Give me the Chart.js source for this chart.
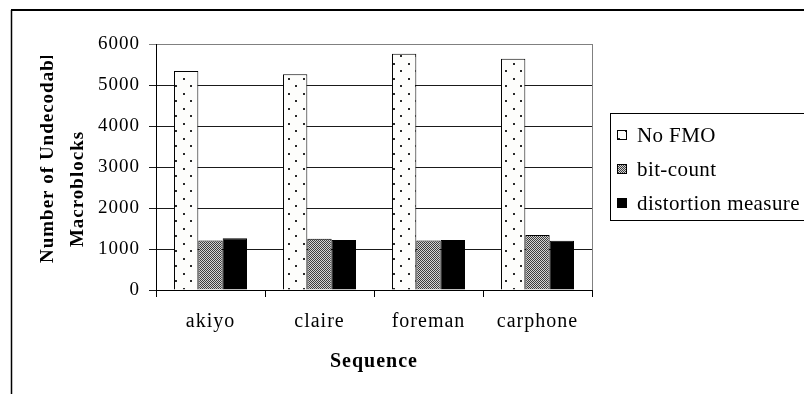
<!DOCTYPE html>
<html>
<head>
<meta charset="utf-8">
<script src="https://cdn.jsdelivr.net/npm/chart.js@4.4.0/dist/chart.umd.min.js"></script>
<style>
  html, body { margin: 0; padding: 0; background: #fff; }
  #wrap { width: 804px; height: 394px; }
</style>
</head>
<body>
<div id="wrap"><canvas id="myChart" width="804" height="394"></canvas></div>
<script>
const sequences = ['akiyo', 'claire', 'foreman', 'carphone'];
const noFmo = [5340, 5260, 5760, 5640];
const bitCount = [1210, 1250, 1210, 1340];
const distortion = [1260, 1220, 1220, 1200];
const seriesNames = ['No FMO', 'bit-count', 'distortion measure'];
const yTicks = [0, 1000, 2000, 3000, 4000, 5000, 6000];
const yTitleLines = ['Number of Undecodable', 'Macroblocks'];
const xTitle = 'Sequence';

const SERIF = '"Liberation Serif", "Times New Roman", serif';

const ctx = document.getElementById('myChart');
const g = ctx.getContext('2d');

// sparse dot fill
function dotPattern() {
  const c = document.createElement('canvas');
  c.width = 15; c.height = 15;
  const p = c.getContext('2d');
  p.fillStyle = '#fdfdfb';
  p.fillRect(0, 0, 15, 15);
  p.fillStyle = '#2a2a2a';
  p.fillRect(3, 3, 2, 2);
  p.fillRect(10, 10, 2, 2);
  return g.createPattern(c, 'repeat');
}

// fine checker fill
function checkPattern() {
  const c = document.createElement('canvas');
  c.width = 2; c.height = 2;
  const p = c.getContext('2d');
  p.fillStyle = '#d4d4d4';
  p.fillRect(0, 0, 2, 2);
  p.fillStyle = '#3c3c3c';
  p.fillRect(0, 0, 1, 1);
  p.fillRect(1, 1, 1, 1);
  return g.createPattern(c, 'repeat');
}

const fills = [dotPattern(), checkPattern(), '#000'];

const frame = {
  id: 'frame',
  beforeDraw(chart) {
    const c = chart.ctx;
    c.save();
    c.fillStyle = '#fff';
    c.fillRect(0, 0, chart.width, chart.height);
    c.strokeStyle = '#000';
    c.lineWidth = 2;
    c.beginPath();
    c.moveTo(11, 10); c.lineTo(chart.width, 10);
    c.stroke();
    c.lineWidth = 1.5;
    c.beginPath();
    c.moveTo(11.5, 10); c.lineTo(11.5, chart.height);
    c.stroke();
    c.restore();
    c.letterSpacing = '1px';
  },
  afterDatasetsDraw(chart) {
    const a = chart.chartArea;
    const c = chart.ctx;
    c.save();
    c.strokeStyle = '#808080';
    c.lineWidth = 1;
    c.beginPath();
    c.moveTo(a.right + 0.5, a.top);
    c.lineTo(a.right + 0.5, a.bottom);
    c.stroke();
    c.restore();
  }
};

// two-line axis title, cut off where it runs past the top of the frame
const yTitle = {
  id: 'yTitle',
  afterDraw(chart) {
    const c = chart.ctx;
    const a = chart.chartArea;
    c.save();
    c.beginPath();
    c.rect(0, 56, a.left, chart.height - 56);
    c.clip();
    c.font = 'bold 19px ' + SERIF;
    c.fillStyle = '#000';
    c.letterSpacing = '1px';
    c.textBaseline = 'alphabetic';
    c.save();
    c.translate(53, 263);
    c.rotate(-Math.PI / 2);
    c.textAlign = 'left';
    c.fillText(yTitleLines[0], 0, 0);
    c.restore();
    c.save();
    c.translate(83, 189);
    c.rotate(-Math.PI / 2);
    c.textAlign = 'center';
    c.fillText(yTitleLines[1], 0, 0);
    c.restore();
    c.restore();
  }
};

const boxLegend = {
  id: 'boxLegend',
  afterDraw(chart) {
    const c = chart.ctx;
    const left = 610, top = 113, bottom = 220;
    c.save();
    c.strokeStyle = '#000';
    c.lineWidth = 1;
    c.strokeRect(left + 0.5, top + 0.5, chart.width, bottom - top);
    c.font = '21px ' + SERIF;
    c.letterSpacing = '0.4px';
    c.textAlign = 'left';
    c.textBaseline = 'alphabetic';
    chart.data.datasets.forEach((ds, i) => {
      const base = 142 + i * 34;
      c.fillStyle = ds.backgroundColor;
      c.fillRect(618, base - 11, 8, 8);
      c.strokeStyle = '#000';
      c.strokeRect(617.5, base - 11.5, 9, 9);
      c.fillStyle = '#000';
      c.fillText(ds.label, 637, base);
    });
    c.restore();
  }
};

new Chart(ctx, {
  type: 'bar',
  data: {
    labels: sequences,
    datasets: [noFmo, bitCount, distortion].map((vals, i) => ({
      label: seriesNames[i],
      data: vals,
      backgroundColor: fills[i],
      borderColor: '#000',
      borderWidth: 1,
      categoryPercentage: 0.67,
      barPercentage: 1
    }))
  },
  options: {
    responsive: false,
    animation: false,
    events: [],
    layout: { padding: { left: 0, right: 212, top: 44, bottom: 0 } },
    plugins: {
      legend: { display: false },
      tooltip: { enabled: false }
    },
    scales: {
      x: {
        afterFit(s) { s.height = 104; },
        grid: {
          offset: true,
          drawOnChartArea: false,
          color: '#000',
          tickLength: 7
        },
        border: { color: '#000', width: 1 },
        ticks: {
          color: '#000',
          font: { family: SERIF, size: 20 },
          padding: 13
        },
        title: {
          display: true,
          text: xTitle,
          color: '#000',
          font: { family: SERIF, size: 20, weight: 'bold' },
          padding: { top: 0, bottom: 20 }
        }
      },
      y: {
        min: yTicks[0],
        max: yTicks[yTicks.length - 1],
        afterFit(s) { s.width = 156; },
        afterBuildTicks(s) { s.ticks = yTicks.map(v => ({ value: v })); },
        grid: {
          color: c => c.tick && c.tick.value === yTicks[yTicks.length - 1] ? '#808080' : '#1a1a1a',
          tickLength: 7
        },
        border: { color: '#000', width: 1 },
        ticks: {
          color: '#000',
          font: { family: SERIF, size: 19 },
          padding: 9,
          callback: v => String(v)
        }
      }
    }
  },
  plugins: [frame, yTitle, boxLegend]
});
</script>
</body>
</html>
